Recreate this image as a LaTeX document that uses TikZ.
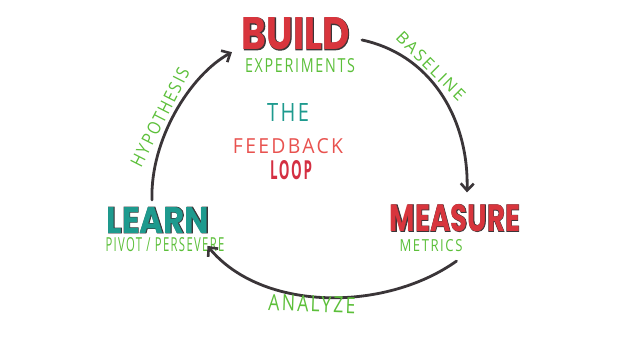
\documentclass[tikz,border=0pt]{standalone}
\usepackage{fontspec}
\usetikzlibrary{arrows.meta}
\newfontfamily\bigfont{Poppins}[UprightFont=* Bold]
\newfontfamily\bigfontout{Poppins}[UprightFont=* Bold,FakeBold=2.5]
\newfontfamily\handfont{Open Sans}[LetterSpace=12]
\definecolor{inkred}{HTML}{D8353D}
\definecolor{inkteal}{HTML}{1E9A8E}
\definecolor{inkgreen}{HTML}{5CBF3A}
\definecolor{inkdark}{HTML}{3A3538}
\definecolor{fbred}{HTML}{E8524F}
\definecolor{loopred}{HTML}{D42F42}
\newcommand{\fitbox}[3]{\resizebox{#1pt}{#2pt}{#3}}
\newcommand{\inkword}[2]{\makebox[0pt][l]{\color{inkdark}\bigfontout #2}{\color{#1}\bigfont #2}}
\tikzset{
  txt/.style={inner sep=0pt, outer sep=0pt},
  loopline/.style={draw=inkdark, line width=2.8pt, line cap=round,
    -{Straight Barb[length=7pt,width=13pt,line width=2.6pt]}},
}
\begin{document}
\begin{tikzpicture}[x=1pt,y=-1pt]
\useasboundingbox (0,0) rectangle (640,341);
% big words
\node[txt] (build) at (296,34) {\fitbox{108}{32}{\inkword{inkred}{BUILD}}};
\node[txt] (measure) at (455,218) {\fitbox{130}{27}{\inkword{inkred}{MEASURE}}};
\node[txt] (learn) at (158,220) {\fitbox{103}{26}{\inkword{inkteal}{LEARN}}};
% sub labels
\node[txt,text=inkgreen] (exp) at (300,66) {\fitbox{110}{14}{\handfont EXPERIMENTS}};
\node[txt,text=inkgreen] (metrics) at (431,246) {\fitbox{63}{12}{\handfont METRICS}};
\node[txt,text=inkgreen] (pivot) at (165,245) {\fitbox{119}{14}{\handfont PIVOT / PERSEVERE}};
% title
\node[txt,text=inkteal] (the) at (288,112) {\fitbox{42}{18}{\handfont THE}};
\node[txt,text=fbred] (feedback) at (288,146) {\fitbox{110}{15}{\handfont FEEDBACK}};
\node[txt,text=loopred] (loop) at (291,170) {\fitbox{42}{19}{\handfont\bfseries LOOP}};
% connectors
\draw[loopline] ([shift={(12,6)}]build.east) .. controls (432,55) and (469,120) .. ([shift={(12,-12)}]measure.north);
\draw[loopline] ([shift={(-6,9)}]metrics.south east) .. controls (385,312) and (262,312) .. ([shift={(-17,8)}]pivot.north east);
\draw[loopline] ([shift={(-6,-7)}]learn.north) .. controls (150,140) and (190,75) .. ([shift={(-10,2)}]build.south west);
% arrow labels
\node[txt,text=inkgreen,rotate=-45] (baseline) at (431,66) {\fitbox{90}{12}{\handfont BASELINE}};
\node[txt,text=inkgreen,rotate=63] (hypo) at (160,117) {\fitbox{108}{13}{\handfont HYPOTHESIS}};
\node[txt,text=inkgreen,rotate=-2] (analyze) at (312,304) {\fitbox{87}{16}{\handfont ANALYZE}};
\end{tikzpicture}
\end{document}
